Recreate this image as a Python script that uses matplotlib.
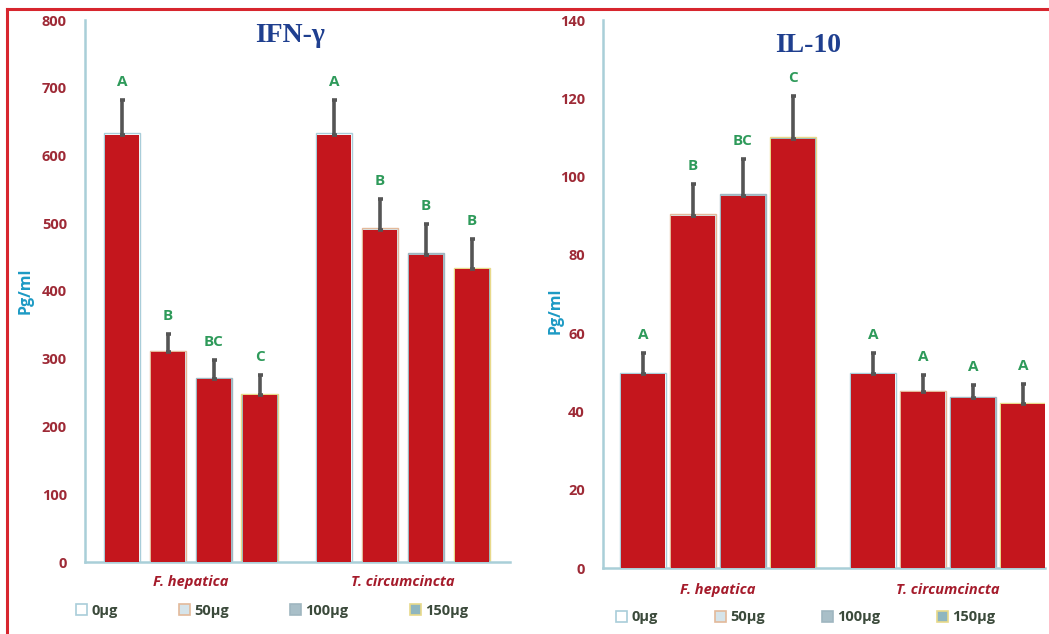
import matplotlib
matplotlib.use("Agg")
import matplotlib.pyplot as plt
from matplotlib.patches import Patch
from matplotlib.lines import Line2D

# ---------------- data ----------------
groups = ["F. hepatica", "T. circumcincta"]
doses = ["0µg", "50µg", "100µg", "150µg"]

ifn_hep = [630, 310, 270, 247]
ifn_hep_err = [52, 27, 28, 29]
ifn_circ = [630, 490, 453, 432]
ifn_circ_err = [52, 46, 46, 45]
ifn_letters_hep = ["A", "B", "BC", "C"]
ifn_letters_circ = ["A", "B", "B", "B"]

il10_hep = [49.5, 90, 95, 109.5]
il10_hep_err = [5.5, 8, 9.5, 11]
il10_circ = [49.5, 45, 43.5, 42]
il10_circ_err = [5.5, 4.2, 3.3, 5]
il10_letters_hep = ["A", "B", "BC", "C"]
il10_letters_circ = ["A", "A", "A", "A"]

# ---------------- styles ----------------
RED = "#c4161d"
TICK_C = "#9e2a36"
LETTER_C = "#2e9a5a"
YLAB_C = "#1d9ac4"
AXIS_C = "#a9cfd8"
ERR_C = "#555555"
CAT_C = "#a51b2b"
LEG_TXT = "#3b4a3b"
under_face = ["#ffffff", "#d6e4ea", "#a9bfc8", "#8fb6bf"]
under_edge = ["#a9cdd9", "#e3b99a", "#9fb6c0", "#e8d98a"]

W, H = 1049, 634
fig = plt.figure(figsize=(W / 100, H / 100), dpi=100)


def fx(px):
    return px / W


def fy(py):
    return 1 - py / H


def panel(rect, hep, hep_err, circ, circ_err, lh, lc, ymax, ystep,
          width, xlim, gap, cat_y, leg_y, leg_x, leg_space, ylab_xy):
    ax = fig.add_axes(rect)
    positions = [i for i in range(4)] + [gap + i for i in range(4)]
    vals = hep + circ
    errs = hep_err + circ_err
    letters = lh + lc
    for k, (x, v) in enumerate(zip(positions, vals)):
        d = k % 4
        ax.bar(x, v * 1.006, width=width + 0.05, color=under_face[d],
               edgecolor=under_edge[d], linewidth=1.0, zorder=2)
        ax.bar(x, v, width=width, color=RED, linewidth=0, zorder=3)
    ax.errorbar(positions, vals, yerr=[[0] * 8, errs], fmt="none",
                ecolor=ERR_C, elinewidth=2.6, capsize=1.8, capthick=2.6,
                zorder=4)
    for x, v, e, t in zip(positions, vals, errs, letters):
        ax.annotate(t, (x, v + e), xytext=(0, 8), textcoords="offset points",
                    ha="center", va="bottom", color=LETTER_C,
                    fontsize=11, fontweight="bold", family="Open Sans")
    ax.set_ylim(0, ymax)
    ax.set_xlim(*xlim)
    ax.set_yticks(range(0, ymax + 1, ystep))
    ax.set_xticks([])
    for s in ["top", "right"]:
        ax.spines[s].set_visible(False)
    for s in ["left", "bottom"]:
        ax.spines[s].set_color(AXIS_C)
        ax.spines[s].set_linewidth(1.8)
    ax.tick_params(axis="y", length=0, pad=13, labelsize=10.5,
                   labelcolor=TICK_C)
    for lab in ax.get_yticklabels():
        lab.set_fontweight("bold")
        lab.set_family("Open Sans")
    ax.set_ylabel("Pg/ml", color=YLAB_C, fontsize=11.5, fontweight="bold",
                  family="Open Sans")
    ax.yaxis.set_label_coords(*ylab_xy)
    # category labels
    for gi, g in enumerate(groups):
        cx = gi * gap + 1.5
        ax.text(cx, cat_y, g, transform=ax.get_xaxis_transform(),
                ha="center", va="center", color=CAT_C, fontsize=10.5,
                fontweight="bold", style="italic", family="Open Sans")
    # legend
    handles = [Patch(facecolor=under_face[d], edgecolor=under_edge[d],
                     linewidth=1.2, label=doses[d]) for d in range(4)]
    leg = ax.legend(handles=handles, loc="center left",
                    bbox_to_anchor=(leg_x, leg_y), ncol=4, frameon=False,
                    handlelength=0.75, handleheight=0.75, handletextpad=0.3,
                    columnspacing=leg_space,
                    prop={"family": "Open Sans", "weight": "bold",
                          "size": 10.5})
    for t in leg.get_texts():
        t.set_color(LEG_TXT)
    return ax


# left panel: axis x 85..510, y 20..562
axL = panel([fx(85), fy(562), fx(510) - fx(85), fy(20) - fy(562)],
            ifn_hep, ifn_hep_err, ifn_circ, ifn_circ_err,
            ifn_letters_hep, ifn_letters_circ, 800, 100,
            0.74, (-0.8, 8.45), 4.62, -0.037, -0.09, -0.052, 4.2,
            (-0.122, 0.50))

# right panel: axis x 603..1045, y 20..568
axR = panel([fx(603), fy(568), fx(1045) - fx(603), fy(20) - fy(568)],
            il10_hep, il10_hep_err, il10_circ, il10_circ_err,
            il10_letters_hep, il10_letters_circ, 140, 20,
            0.88, (-0.8, 8.04), 4.6, -0.04, -0.09, 0.0, 3.9,
            (-0.09, 0.47))

fig.text(fx(290), fy(35), "IFN-γ", ha="center", va="center",
         color="#1f3f8f", fontsize=20, fontweight="bold",
         family="Liberation Serif")
fig.text(fx(808), fy(45), "IL-10", ha="center", va="center",
         color="#1f3f8f", fontsize=20, fontweight="bold",
         family="Liberation Serif")

# red frame (left and top)
fig.add_artist(Line2D([fx(7), fx(7)], [0, fy(9)], color="#d7262e", lw=2.2))
fig.add_artist(Line2D([fx(7), 1], [fy(9), fy(9)], color="#d7262e", lw=2.2))

fig.savefig("out.png", dpi=100)
